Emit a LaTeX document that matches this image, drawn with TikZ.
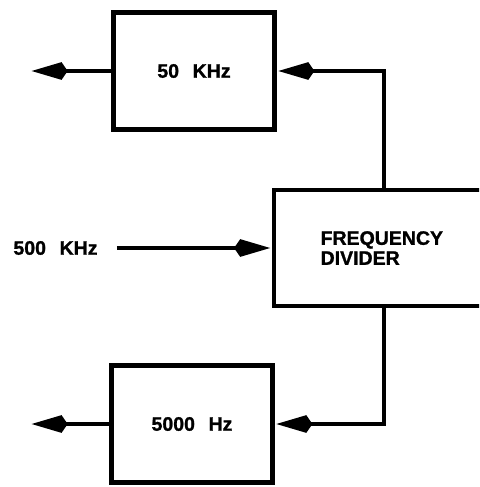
\documentclass[tikz,border=0pt]{standalone}
\usepackage{fontspec}
\setmainfont[BoldFeatures={FakeBold=1.2}]{Liberation Sans}
\usepackage{tikz}
\usetikzlibrary{arrows.meta, positioning}

\begin{document}
\begin{tikzpicture}[
    x=1pt, y=-1pt,
    line width=4.5pt,
    >={Stealth[length=31pt, width=15pt, inset=-7pt]},
    filterbox/.style={rectangle, draw=black, minimum width=161pt, minimum height=117pt, inner sep=0pt, font=\bfseries\fontsize{19.5}{20}\selectfont},
    divider/.style={rectangle, draw=black, minimum width=220pt, minimum height=116pt, inner sep=0pt, align=left, font=\bfseries\fontsize{19.5}{20}\selectfont},
    sigtext/.style={inner sep=0pt, font=\bfseries\fontsize{19.5}{20}\selectfont}
]
\clip (0,0) rectangle (479,487);

% Boxes
\node[filterbox] (b50) at (194, 71) {\raisebox{-4pt}{50\hspace{0.7em}KHz}};
\node[divider] (fd) at (384, 248) {\raisebox{-4pt}{\parbox{6.5em}{FREQUENCY\\DIVIDER}}};
\node[filterbox] (b5k) at (192, 424) {\raisebox{-7pt}{5000\hspace{0.7em}Hz}};

% Input and outputs
\node[sigtext] (in) at (55.5, 248) {500\hspace{0.7em}KHz};
\coordinate (out50) at (30, 71);
\coordinate (out5k) at (30, 424);

% Connections
\draw[->, shorten <=17pt] (in.east) -- (fd.west);
\draw[->] (fd.north) |- (b50.east);
\draw[->] (fd.south) |- (b5k.east);
\draw[->] (b50.west) -- (out50);
\draw[->] (b5k.west) -- (out5k);
\end{tikzpicture}
\end{document}
